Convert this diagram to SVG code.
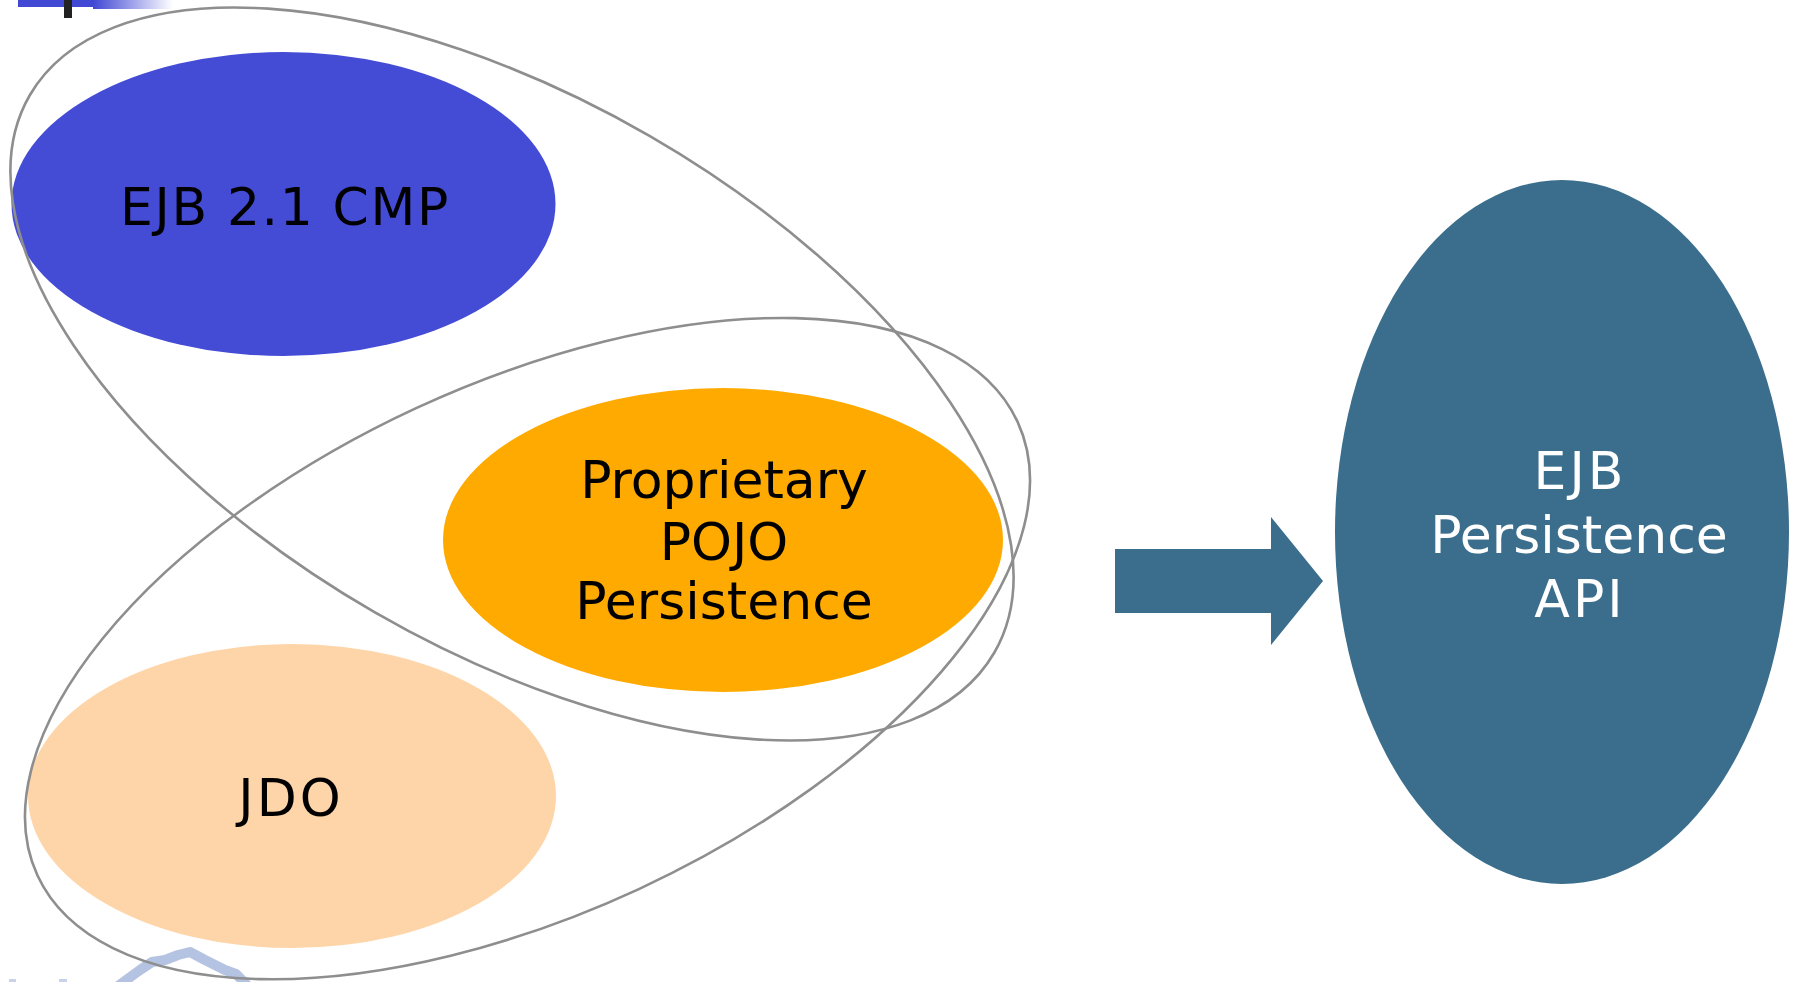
<svg xmlns="http://www.w3.org/2000/svg" width="1800" height="982" viewBox="0 0 1800 982">
  <defs>
    <linearGradient id="barGrad" x1="0" y1="0" x2="1" y2="0">
      <stop offset="0" stop-color="#4148D4"/>
      <stop offset="1" stop-color="#4148D4" stop-opacity="0"/>
    </linearGradient>
    <style>
      .lbl { font-family: "DejaVu Sans", Verdana, sans-serif; font-size: 52px; text-anchor: middle; }
      .dark { fill: #000000; }
      .light { fill: #FFFFFF; }
      .wide { letter-spacing: 1.6px; }
      .wider { letter-spacing: 3px; }
      .outline { fill: none; stroke: #8E8E8E; stroke-width: 2.6; }
    </style>
  </defs>
  <rect width="1800" height="982" fill="#FFFFFF"/>

  <!-- decoration top-left -->
  <rect x="18" y="0" width="76" height="7" fill="#4148D4"/>
  <rect x="93" y="0" width="80" height="9" fill="url(#barGrad)"/>
  <rect x="64" y="0" width="8" height="18" fill="#222222"/>

  <!-- decoration bottom-left -->
  <path d="M118,986 L140,970 L152,962 L165,960 L178,955 L190,952 L205,960 L225,970 L236,974 L248,986" fill="none" stroke="#B5C3E2" stroke-width="10" stroke-linejoin="round"/>
  <rect x="9" y="979" width="7" height="3" fill="#C9D2E8"/>
  <rect x="59" y="979" width="8" height="3" fill="#C9D2E8"/>

  <g id="node-ejb21cmp">
    <ellipse cx="283.5" cy="204" rx="272" ry="152" fill="#444CD6"/>
    <text class="lbl dark wide" x="285" y="225">EJB 2.1 CMP</text>
  </g>
  <g id="node-proprietary">
    <ellipse cx="723" cy="540" rx="280" ry="152" fill="#FFAA00"/>
    <text class="lbl dark" x="724" y="498">Proprietary</text>
    <text class="lbl dark" x="724" y="560">POJO</text>
    <text class="lbl dark" x="724" y="619">Persistence</text>
  </g>
  <g id="node-jdo">
    <ellipse cx="292" cy="796" rx="264" ry="152" fill="#FED5A8"/>
    <text class="lbl dark wider" x="291" y="816">JDO</text>
  </g>
  <g id="node-ejbpersistence">
    <ellipse cx="1562" cy="532" rx="227" ry="352" fill="#3A6E8C"/>
    <text class="lbl light wider" x="1580" y="489">EJB</text>
    <text class="lbl light" x="1579" y="553">Persistence</text>
    <text class="lbl light wider" x="1580" y="617">API</text>
  </g>

  <g id="groupings">
    <ellipse class="outline" cx="0" cy="0" rx="557" ry="275" transform="translate(512,374) rotate(30)"/>
    <ellipse class="outline" cx="0" cy="0" rx="540" ry="265" transform="translate(527.5,648.6) rotate(-24.85)"/>
  </g>

  <g id="connectors">
    <path d="M1115,549 L1271,549 L1271,517 L1323,581 L1271,645 L1271,613 L1115,613 Z" fill="#3A6E8C"/>
  </g>
</svg>
